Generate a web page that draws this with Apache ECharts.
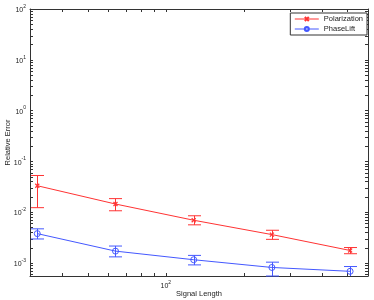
<!DOCTYPE html>
<html>
<head>
<meta charset="utf-8">
<script src="https://cdn.jsdelivr.net/npm/echarts@6/dist/echarts.min.js"></script>
<style>html,body{margin:0;padding:0;background:#fff}#c{width:374px;height:300px}</style>
</head>
<body>
<div id="c"></div>
<script>
// Data
const signalLength = [32, 64, 128, 256, 512];
const polMean = [0.033, 0.0144, 0.0069, 0.0036, 0.00175];
const polLow  = [0.0122, 0.0106, 0.0056, 0.0029, 0.00151];
const polHigh = [0.0525, 0.0184, 0.00845, 0.00438, 0.0020];
const plMean = [0.00376, 0.0017, 0.00115, 0.00081, 0.00068];
const plLow  = [0.00295, 0.00131, 0.00091, 0.00055, 0.00046];
const plHigh = [0.00467, 0.00214, 0.0014, 0.00103, 0.000845];
const seriesNames = ['Polarization', 'PhaseLift'];

// Axis ranges and minor tick values
const xMin = 30, xMax = 600, yMin = 5.5e-4, yMax = 100;
const xMinorTicks = [40, 50, 60, 70, 80, 90, 200, 300, 400, 500];
const yMinorMult = [2, 3, 4, 5, 6, 7, 8, 9];
const yDecades = [1e-4, 1e-3, 1e-2, 1e-1, 1, 10];

const RED = '#ff3333', BLUE = '#4458ff', AX = '#333333';
const FONT = 'Liberation Sans';

const yMinorTicks = [];
yDecades.forEach(d => yMinorMult.forEach(m => { const v = m * d; if (v > yMin && v < yMax) yMinorTicks.push(v); }));

function powLabel(v) {
  const l = Math.log10(v), e = Math.round(l);
  if (Math.abs(l - e) > 1e-6) return '';
  return '{b|10}{s|' + e + '}';
}
const richLab = {
  b: {fontSize: 7, fontFamily: FONT, color: '#222', lineHeight: 10, verticalAlign: 'bottom'},
  s: {fontSize: 5, fontFamily: FONT, color: '#222', lineHeight: 10, verticalAlign: 'top'}
};

function errBar(color) {
  return function (params, api) {
    const x = api.value(0), lo = api.value(1), hi = api.value(2);
    const a = api.coord([x, lo]), b = api.coord([x, hi]);
    const bottom = api.coord([xMin, yMin])[1];
    const w = 6.5;
    const cx = Math.round(a[0]) + 0.5;
    const kids = [];
    const st = () => ({stroke: color, lineWidth: 1, fill: null});
    const yLo = Math.min(a[1], bottom);
    kids.push({type: 'line', silent: true, shape: {x1: cx, y1: yLo, x2: cx, y2: b[1]}, style: st()});
    kids.push({type: 'line', silent: true, shape: {x1: cx - w, y1: b[1], x2: cx + w, y2: b[1]}, style: st()});
    if (a[1] <= bottom) {
      kids.push({type: 'line', silent: true, shape: {x1: cx - w, y1: a[1], x2: cx + w, y2: a[1]}, style: st()});
    }
    return {type: 'group', children: kids};
  };
}

function minorTicks(params, api) {
  const L = 3, kids = [];
  const mk = (x1, y1, x2, y2) => ({type: 'line', shape: {x1: x1, y1: y1, x2: x2, y2: y2},
    style: {stroke: AX, lineWidth: 1, fill: null}});
  xMinorTicks.forEach(v => {
    const p0 = api.coord([v, yMin]), p1 = api.coord([v, yMax]);
    const x = Math.round(p0[0]) + 0.5;
    kids.push(mk(x, p0[1], x, p0[1] - L));
    kids.push(mk(x, p1[1], x, p1[1] + L));
  });
  yMinorTicks.forEach(v => {
    const p0 = api.coord([xMin, v]), p1 = api.coord([xMax, v]);
    const y = Math.round(p0[1]) + 0.5;
    kids.push(mk(p0[0], y, p0[0] + L, y));
    kids.push(mk(p1[0], y, p1[0] - L, y));
  });
  return {type: 'group', children: kids};
}

const axisCommon = {
  type: 'log', logBase: 10,
  axisLine: {show: true, lineStyle: {color: AX, width: 1}},
  axisTick: {show: true, inside: true, length: 3, lineStyle: {color: AX}},
  splitLine: {show: false},
  minorTick: {show: false}
};

const option = {
  animation: false,
  backgroundColor: '#fff',
  textStyle: {fontFamily: FONT},
  grid: {left: 30, right: 6, top: 9, bottom: 24, containLabel: false, outerBoundsMode: 'none'},
  legend: {
    data: seriesNames,
    orient: 'vertical', right: 7, top: 13,
    padding: [2, 4, 2, 4], itemGap: 2, itemWidth: 24, itemHeight: 5, itemTextGap: 3,
    borderColor: AX, borderWidth: 1, backgroundColor: '#fff',
    lineStyle: {width: 1},
    textStyle: {fontSize: 7.5, color: '#222', fontFamily: FONT}
  },
  xAxis: [
    Object.assign({}, axisCommon, {
      min: xMin, max: xMax, position: 'bottom',
      name: 'Signal Length', nameLocation: 'middle', nameGap: 14, nameMoveOverlap: false,
      nameTextStyle: {fontSize: 7.5, color: '#222', fontFamily: FONT},
      axisLabel: {margin: 4, formatter: powLabel, rich: richLab}
    }),
    Object.assign({}, axisCommon, {
      min: xMin, max: xMax, position: 'top', axisLabel: {show: false}
    })
  ],
  yAxis: [
    Object.assign({}, axisCommon, {
      min: yMin, max: yMax, position: 'left',
      name: 'Relative Error', nameLocation: 'middle', nameGap: 18, nameMoveOverlap: false,
      nameTextStyle: {fontSize: 7.5, color: '#222', fontFamily: FONT},
      axisLabel: {margin: 4, formatter: powLabel, rich: richLab}
    }),
    Object.assign({}, axisCommon, {
      min: yMin, max: yMax, position: 'right', axisLabel: {show: false}
    })
  ],
  series: [
    {
      type: 'custom', name: 'ticks', xAxisIndex: 0, yAxisIndex: 0,
      renderItem: minorTicks, data: [[100, 0.01]], silent: true, z: 1
    },
    {
      type: 'custom', name: 'polErr', xAxisIndex: 0, yAxisIndex: 0, silent: true,
      emphasis: {disabled: true},
      renderItem: errBar(RED), color: RED,
      data: signalLength.map((x, i) => [x, polLow[i], polHigh[i]]), z: 2
    },
    {
      type: 'custom', name: 'plErr', xAxisIndex: 0, yAxisIndex: 0, silent: true,
      emphasis: {disabled: true},
      renderItem: errBar(BLUE), color: BLUE,
      data: signalLength.map((x, i) => [x, plLow[i], plHigh[i]]), z: 2
    },
    {
      type: 'line', name: seriesNames[0], xAxisIndex: 0, yAxisIndex: 0,
      data: signalLength.map((x, i) => [x, polMean[i]]),
      color: RED, lineStyle: {color: RED, width: 1},
      symbol: 'path://M0 0L10 10M10 0L0 10', symbolSize: 4,
      itemStyle: {color: RED, borderColor: RED, borderWidth: 1.2}, z: 3
    },
    {
      type: 'line', name: seriesNames[1], xAxisIndex: 0, yAxisIndex: 0,
      data: signalLength.map((x, i) => [x, plMean[i]]),
      color: BLUE, lineStyle: {color: BLUE, width: 1},
      symbol: 'circle', symbolSize: 6,
      itemStyle: {color: 'rgba(0,0,0,0)', borderColor: BLUE, borderWidth: 1}, z: 3
    }
  ]
};

const chart = echarts.init(document.getElementById('c'), null, {renderer: 'canvas'});
chart.setOption(option);
</script>
</body>
</html>
